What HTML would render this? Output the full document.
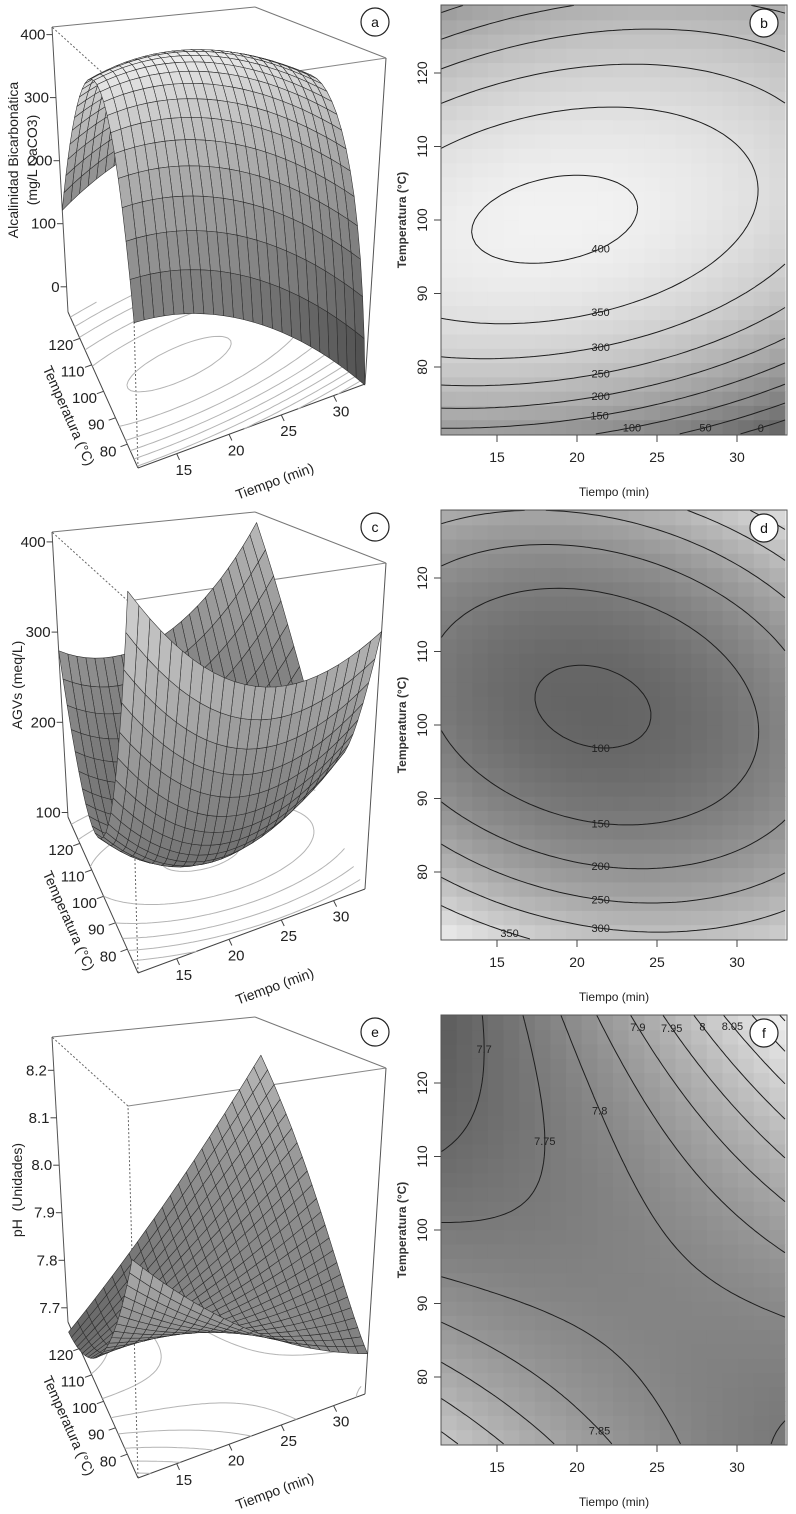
<!DOCTYPE html>
<html><head><meta charset="utf-8"><title>Response surfaces</title>
<style>
html,body{margin:0;padding:0;background:#fff;}
svg{display:block;font-family:"Liberation Sans",sans-serif;}
</style></head>
<body>
<svg id="fig" width="796" height="1514" viewBox="0 0 796 1514" xmlns="http://www.w3.org/2000/svg"></svg>
<script>
// ---------- data (model coefficients, levels, ticks) ----------
// Alcalinidad: f = peak - a*u^2 - b*v^2 + c*u*v + d*v^3 ; u=t-t0, v=T-T0
const alkCoef = [410, 18.6, 100, 0.4, 0.3, 0.185, 0.0016];
// AGVs: f = min + a*u^2 + b*v^2 + c*u*v
const agvCoef = [93, 21, 102.5, 0.556, 0.23, 0.15];
// pH: f = k0 + k1*u + k2*v + k3*u*v + k4*u^2 + k5*v^2
const phCoef = [7.78, 22, 101, 0.00582, 0.000443, 0.000624, 0.000283, 0.0000945];

const alkLevels = [0, 50, 100, 150, 200, 250, 300, 350, 400];
const agvLevels = [100, 150, 200, 250, 300, 350];
const phLevels = [7.7, 7.75, 7.8, 7.85, 7.9, 7.95, 8, 8.05, 8.1, 8.15];

const timeTicks = [15, 20, 25, 30];
const tempTicks = [80, 90, 100, 110, 120];
const alkZTicks = [0, 100, 200, 300, 400];
const agvZTicks = [100, 200, 300, 400];
const phZTicks = [7.7, 7.8, 7.9, 8.0, 8.1, 8.2];
const phZTickLabels = ["7.7", "7.8", "7.9", "8.0", "8.1", "8.2"];

function alk(t, T) { const c = alkCoef, u = t - c[1], v = T - c[2]; return c[0] - c[3]*u*u - c[4]*v*v + c[5]*u*v + c[6]*v*v*v; }
function agv(t, T) { const c = agvCoef, u = t - c[1], v = T - c[2]; return c[0] + c[3]*u*u + c[4]*v*v + c[5]*u*v; }
function ph(t, T) { const c = phCoef, u = t - c[1], v = T - c[2]; return c[0] + c[3]*u + c[4]*v + c[5]*u*v + c[6]*u*u + c[7]*v*v; }

// ---------- helpers ----------
const NS = "http://www.w3.org/2000/svg";
const svg = document.getElementById("fig");
function mk(tag, attrs, parent) {
  const e = document.createElementNS(NS, tag);
  for (const k in attrs) e.setAttribute(k, attrs[k]);
  (parent || svg).appendChild(e);
  return e;
}
function txt(s, attrs, parent) { const e = mk("text", attrs, parent); e.textContent = s; return e; }

function march(fn, t0, t1, T0, T1, N, level) {
  const vals = [];
  for (let i = 0; i <= N; i++) { vals.push([]); for (let j = 0; j <= N; j++) vals[i].push(fn(t0 + (t1 - t0) * i / N, T0 + (T1 - T0) * j / N)); }
  const segs = [];
  const pt = (i1, j1, i2, j2) => {
    const a = vals[i1][j1], b = vals[i2][j2], f = (level - a) / (b - a);
    return [t0 + (t1 - t0) * (i1 + (i2 - i1) * f) / N, T0 + (T1 - T0) * (j1 + (j2 - j1) * f) / N];
  };
  for (let i = 0; i < N; i++) for (let j = 0; j < N; j++) {
    const cs = [[i, j], [i + 1, j], [i + 1, j + 1], [i, j + 1]];
    const pts = [];
    for (let k = 0; k < 4; k++) {
      const p = cs[k], q = cs[(k + 1) % 4];
      const a = vals[p[0]][p[1]] >= level, b = vals[q[0]][q[1]] >= level;
      if (a !== b) pts.push(pt(p[0], p[1], q[0], q[1]));
    }
    if (pts.length >= 2) segs.push([pts[0], pts[1]]);
    if (pts.length === 4) segs.push([pts[2], pts[3]]);
  }
  return segs;
}

// ---------- contour panels ----------
function contourPanel(oy, fn, levels, g0, g1, letter, name) {
  const g = mk("g", {}, svg);
  
  
  const tA = 11.5, tB = 33, TA = 70.9, TB = 129.2;
  const xs = t => 441 + (t - tA) * 16;
  const ys = T => oy + 220 - (T - 100) * 7.35;
  const nx = 22, ny = 30;
  let mn = Infinity, mx = -Infinity; const cell = [];
  for (let i = 0; i < nx; i++) for (let j = 0; j < ny; j++) {
    const t = tA + (tB - tA) * (i + 0.5) / nx, T = TA + (TB - TA) * (j + 0.5) / ny, v = fn(t, T);
    cell.push([i, j, v]); mn = Math.min(mn, v); mx = Math.max(mx, v);
  }
  const hg = mk("g", {}, g);
  
  
  cell.forEach(c => {
    const x0 = xs(tA + (tB - tA) * c[0] / nx), x1 = xs(tA + (tB - tA) * (c[0] + 1) / nx);
    const y0 = ys(TA + (TB - TA) * (c[1] + 1) / ny), y1 = ys(TA + (TB - TA) * c[1] / ny);
    const gr = Math.round(g0 + (g1 - g0) * (c[2] - mn) / (mx - mn));
    const r = mk("rect", { x: x0.toFixed(1), y: y0.toFixed(1), width: (x1 - x0 + 0.6).toFixed(1), height: (y1 - y0 + 0.6).toFixed(1), fill: `rgb(${gr},${gr},${gr})` }, hg);
    
    
  });
  levels.forEach(L => {
    const segs = march(fn, tA, tB, TA, TB, 70, L);
    if (!segs.length) return;
    let d = "";
    segs.forEach(s => { d += `M${xs(s[0][0]).toFixed(1)} ${ys(s[0][1]).toFixed(1)}L${xs(s[1][0]).toFixed(1)} ${ys(s[1][1]).toFixed(1)}`; });
    const p = mk("path", { d: d, stroke: "#1e1e1e", "stroke-width": 1, fill: "none" }, g);
    
    
    let best = null, bd = Infinity;
    segs.forEach(s => {
      const mxp = xs((s[0][0] + s[1][0]) / 2), myp = ys((s[0][1] + s[1][1]) / 2);
      if (mxp < 460 || mxp > 770 || myp < oy + 15 || myp > oy + 428) return;
      const dd = Math.abs(mxp - 600);
      if (dd < bd) { bd = dd; best = [mxp, myp]; }
    });
    if (best) {
      const lb = txt(String(L), { x: best[0].toFixed(1), y: (best[1] + 4).toFixed(1), "font-size": 11, "text-anchor": "middle", fill: "#222" }, g);
      
      
    }
  });
  const fr = mk("rect", { x: 441, y: oy + 5, width: 346, height: 430, fill: "none", stroke: "#555", "stroke-width": 1 }, g);
  
  
  timeTicks.forEach(t => {
    const x = xs(t);
    const tk = mk("line", { x1: x, x2: x, y1: oy + 435, y2: oy + 442, stroke: "#444" }, g);
    
    
    const lb = txt(String(t), { x: x, y: oy + 462, "font-size": 14, "text-anchor": "middle", fill: "#222" }, g);
    
    
  });
  tempTicks.forEach(T => {
    const y = ys(T);
    const tk = mk("line", { x1: 434, x2: 441, y1: y, y2: y, stroke: "#444" }, g);
    
    
    const lb = txt(String(T), { x: 427, y: y, "font-size": 14, "text-anchor": "middle", fill: "#222", transform: `rotate(-90 427 ${y})` }, g);
    
    
  });
  const xt = txt("Tiempo (min)", { x: 614, y: oy + 496, "font-size": 12, "text-anchor": "middle", fill: "#222" }, g);
  
  
  const yt = txt("Temperatura (°C)", { x: 406, y: oy + 220, "font-size": 12, "font-weight": "bold", "text-anchor": "middle", fill: "#333", transform: `rotate(-90 406 ${oy + 220})` }, g);
  
  
  const ci = mk("circle", { cx: 764, cy: oy + 23, r: 14, fill: "#fff", stroke: "#222", "stroke-width": 1.2 }, g);
  
  
  const lt = txt(letter, { x: 764, y: oy + 28, "font-size": 14, "text-anchor": "middle", fill: "#111" }, g);
  
  
}

// ---------- 3D panels ----------
const BOX = { "000": [138, 468], "100": [365, 384], "010": [68, 312], "110": [290, 235], "001": [128, 96], "101": [386, 58], "011": [52, 27], "111": [255, 7] };
function P(u, v, w, oy) {
  let x = 0, y = 0;
  for (let a = 0; a < 2; a++) for (let b = 0; b < 2; b++) for (let c = 0; c < 2; c++) {
    const wt = (a ? u : 1 - u) * (b ? v : 1 - v) * (c ? w : 1 - w);
    const p = BOX["" + a + b + c]; x += wt * p[0]; y += wt * p[1];
  }
  return [x, y + oy];
}
function surfPanel(oy, fn, zmin, zmax, zticks, zlabels, levels, titleLines, letter, name) {
  const g = mk("g", {}, svg);
  
  
  const tA = 11.3, tB = 33, TA = 71, TB = 130;
  const W = (t, T) => (fn(t, T) - zmin) / (zmax - zmin);
  const line = (a, b, attrs, nm) => {
    const l = mk("line", Object.assign({ x1: a[0].toFixed(1), y1: a[1].toFixed(1), x2: b[0].toFixed(1), y2: b[1].toFixed(1) }, attrs), g);
    
    
  };
  const C = k => P(+k[0], +k[1], +k[2], oy);
  line(C("011"), C("111"), { stroke: "#777", "stroke-width": 1 }, "box-edge");
  line(C("111"), C("101"), { stroke: "#777", "stroke-width": 1 }, "box-edge");
  line(C("001"), C("101"), { stroke: "#888", "stroke-width": 1 }, "box-edge");
  line(C("001"), C("011"), { stroke: "#666", "stroke-width": 1, "stroke-dasharray": "2,2" }, "box-edge-hidden");
  line(C("000"), C("001"), { stroke: "#666", "stroke-width": 1, "stroke-dasharray": "2,2" }, "box-edge-hidden");
  line(C("010"), C("011"), { stroke: "#555", "stroke-width": 1 }, "z-axis-line");
  line(C("100"), C("101"), { stroke: "#555", "stroke-width": 1 }, "box-edge");
  line(C("000"), C("100"), { stroke: "#444", "stroke-width": 1 }, "time-axis-line");
  line(C("000"), C("010"), { stroke: "#444", "stroke-width": 1 }, "temp-axis-line");
  levels.forEach(L => {
    const segs = march(fn, tA, tB, TA, TB, 50, L);
    if (!segs.length) return;
    let d = "";
    segs.forEach(s => {
      const a = P((s[0][0] - tA) / (tB - tA), (s[0][1] - TA) / (TB - TA), 0, oy);
      const b = P((s[1][0] - tA) / (tB - tA), (s[1][1] - TA) / (TB - TA), 0, oy);
      d += `M${a[0].toFixed(1)} ${a[1].toFixed(1)}L${b[0].toFixed(1)} ${b[1].toFixed(1)}`;
    });
    const p = mk("path", { d: d, stroke: "#b4b4b4", "stroke-width": 1, fill: "none" }, g);
    
    
  });
  const n = 24, quads = [];
  const wv = [];
  for (let i = 0; i <= n; i++) { wv.push([]); for (let j = 0; j <= n; j++) wv[i].push(W(tA + (tB - tA) * i / n, TA + (TB - TA) * j / n)); }
  for (let i = 0; i < n; i++) for (let j = 0; j < n; j++) quads.push([i, j, i + j]);
  quads.sort((a, b) => b[2] - a[2]);
  const L = [0.1, 0.1, 1]; const ln = Math.hypot(L[0], L[1], L[2]);
  const sg = mk("g", {}, g);
  
  
  quads.forEach(q => {
    const i = q[0], j = q[1];
    const pts = [[i, j], [i + 1, j], [i + 1, j + 1], [i, j + 1]].map(c => P(c[0] / n, c[1] / n, wv[c[0]][c[1]], oy));
    const du = ((wv[i + 1][j] - wv[i][j]) + (wv[i + 1][j + 1] - wv[i][j + 1])) / 2 * n;
    const dv = ((wv[i][j + 1] - wv[i][j]) + (wv[i + 1][j + 1] - wv[i + 1][j])) / 2 * n;
    const nl = Math.hypot(du, dv, 1);
    const dot = Math.max(0, (-du * L[0] - dv * L[1] + L[2]) / (nl * ln));
    const wm = Math.max(0, Math.min(1, (wv[i][j] + wv[i + 1][j] + wv[i][j + 1] + wv[i + 1][j + 1]) / 4));
    const gr = Math.round(Math.min(235, 60 + 125 * wm + 55 * dot));
    const poly = mk("polygon", { points: pts.map(p => p[0].toFixed(1) + "," + p[1].toFixed(1)).join(" "), fill: `rgb(${gr},${gr},${gr})`, stroke: "#2a2a2a", "stroke-width": 0.55, "stroke-linejoin": "round" }, sg);
    
    
  });
  zticks.forEach((z, k) => {
    const w = (z - zmin) / (zmax - zmin);
    const p = P(0, 1, w, oy);
    line([p[0] - 6, p[1]], p, { stroke: "#444" }, "z-tick");
    const lb = txt(zlabels[k], { x: (p[0] - 7).toFixed(1), y: (p[1] + 5).toFixed(1), "font-size": 15, "text-anchor": "end", fill: "#222" }, g);
    
    
  });
  tempTicks.forEach(T => {
    const v = (T - TA) / (TB - TA);
    const a = P(0, v, 0, oy), b = P(-0.03, v, 0, oy), c = P(-0.085, v, 0, oy);
    line(a, b, { stroke: "#444" }, "temp-tick");
    const lb = txt(String(T), { x: c[0].toFixed(1), y: (c[1] + 5).toFixed(1), "font-size": 15, "text-anchor": "middle", fill: "#222" }, g);
    
    
  });
  timeTicks.forEach(t => {
    const u = (t - tA) / (tB - tA);
    const a = P(u, 0, 0, oy), b = P(u, -0.04, 0, oy), c = P(u, -0.1, 0, oy);
    line(a, b, { stroke: "#444" }, "time-tick");
    const lb = txt(String(t), { x: c[0].toFixed(1), y: (c[1] + 6).toFixed(1), "font-size": 15, "text-anchor": "middle", fill: "#222" }, g);
    
    
  });
  const tt = txt("Tiempo (min)", { x: 275, y: oy + 486, "font-size": 14, "text-anchor": "middle", fill: "#222", transform: `rotate(-20 275 ${oy + 482})` }, g);
  
  
  const te = txt("Temperatura (°C)", { x: 68, y: oy + 420, "font-size": 14, "text-anchor": "middle", fill: "#222", transform: `rotate(66 68 ${oy + 416})` }, g);
  
  
  titleLines.forEach((s, k) => {
    const x = titleLines.length > 1 ? 18 + k * 19 : 22;
    const cy = oy + (titleLines.length > 1 ? 160 : 180);
    const zt = txt(s, { x: x, y: cy, "font-size": 14, "text-anchor": "middle", fill: "#222", transform: `rotate(-90 ${x} ${cy})` }, g);
    
    
  });
  const ci = mk("circle", { cx: 375, cy: oy + 22, r: 14, fill: "#fff", stroke: "#222", "stroke-width": 1.2 }, g);
  
  
  const lt = txt(letter, { x: 375, y: oy + 27, "font-size": 14, "text-anchor": "middle", fill: "#111" }, g);
  
  
}

surfPanel(0, alk, -40, 412, alkZTicks, alkZTicks.map(String), alkLevels, ["Alcalinidad Bicarbonática", "(mg/L CaCO3)"], "a", "panel-a-alkalinity-surface");
contourPanel(0, alk, alkLevels, 105, 242, "b", "panel-b-alkalinity-contour");
surfPanel(505, agv, 95, 411, agvZTicks, agvZTicks.map(String), agvLevels, ["AGVs (meq/L)"], "c", "panel-c-agv-surface");
contourPanel(505, agv, agvLevels, 100, 230, "d", "panel-d-agv-contour");
surfPanel(1010, ph, 7.67, 8.27, phZTicks, phZTickLabels, phLevels, ["pH\u00a0\u00a0(Unidades)"], "e", "panel-e-ph-surface");
contourPanel(1010, ph, phLevels, 95, 235, "f", "panel-f-ph-contour");
</script>
</body></html>
